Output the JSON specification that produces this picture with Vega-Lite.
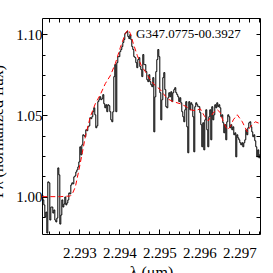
{
  "$schema": "https://vega.github.io/schema/vega-lite/v6.json",
  "width": 218,
  "height": 216,
  "autosize": {"type": "none"},
  "padding": {"left": 42, "top": 18, "right": 13, "bottom": 39},
  "background": "white",
  "config": {
    "view": {"stroke": "#000", "strokeWidth": 1},
    "axis": {"labelFont": "Liberation Serif", "titleFont": "Liberation Serif", "labelColor": "#000", "titleColor": "#000", "domain": false, "grid": false, "titleFontWeight": "normal"}
  },
  "datasets": {
    "spec": [
      {"w": 2.292075, "f": 1.0010}, {"w": 2.2921, "f": 0.9980}, {"w": 2.292125, "f": 0.9949}, {"w": 2.29215, "f": 0.9875},
      {"w": 2.292175, "f": 0.9905}, {"w": 2.2922, "f": 0.9776}, {"w": 2.292225, "f": 1.0091}, {"w": 2.29225, "f": 1.0085},
      {"w": 2.292275, "f": 0.9856}, {"w": 2.2923, "f": 0.9936}, {"w": 2.292325, "f": 0.9936}, {"w": 2.29235, "f": 0.9899},
      {"w": 2.292375, "f": 0.9918}, {"w": 2.2924, "f": 0.9856}, {"w": 2.292425, "f": 0.9844}, {"w": 2.29245, "f": 0.9868},
      {"w": 2.292475, "f": 1.0177}, {"w": 2.2925, "f": 1.0134}, {"w": 2.292525, "f": 0.9831}, {"w": 2.29255, "f": 0.9887},
      {"w": 2.292575, "f": 0.9980}, {"w": 2.2926, "f": 0.9936}, {"w": 2.292625, "f": 0.9955}, {"w": 2.29265, "f": 0.9998},
      {"w": 2.292675, "f": 0.9949}, {"w": 2.2927, "f": 0.9961}, {"w": 2.292725, "f": 0.9980}, {"w": 2.29275, "f": 1.0023},
      {"w": 2.292775, "f": 1.0017}, {"w": 2.2928, "f": 1.0072}, {"w": 2.292825, "f": 1.0085}, {"w": 2.29285, "f": 1.0079},
      {"w": 2.292875, "f": 1.0122}, {"w": 2.2929, "f": 1.0128}, {"w": 2.292925, "f": 1.0152}, {"w": 2.29295, "f": 1.0165},
      {"w": 2.292975, "f": 1.0183}, {"w": 2.293, "f": 1.0214}, {"w": 2.293025, "f": 1.0307}, {"w": 2.29305, "f": 1.0257},
      {"w": 2.293075, "f": 1.0319}, {"w": 2.2931, "f": 1.0381}, {"w": 2.293125, "f": 1.0375}, {"w": 2.29315, "f": 1.0369},
      {"w": 2.293175, "f": 1.0412}, {"w": 2.2932, "f": 1.0406}, {"w": 2.293225, "f": 1.0430}, {"w": 2.29325, "f": 1.0436},
      {"w": 2.293275, "f": 1.0486}, {"w": 2.2933, "f": 1.0480}, {"w": 2.293325, "f": 1.0492}, {"w": 2.29335, "f": 1.0523},
      {"w": 2.293375, "f": 1.0547}, {"w": 2.2934, "f": 1.0504}, {"w": 2.293425, "f": 1.0424}, {"w": 2.29345, "f": 1.0436},
      {"w": 2.293475, "f": 1.0585}, {"w": 2.2935, "f": 1.0597}, {"w": 2.293525, "f": 1.0615}, {"w": 2.29355, "f": 1.0597},
      {"w": 2.293575, "f": 1.0603}, {"w": 2.2936, "f": 1.0628}, {"w": 2.293625, "f": 1.0572}, {"w": 2.29365, "f": 1.0547},
      {"w": 2.293675, "f": 1.0566}, {"w": 2.2937, "f": 1.0523}, {"w": 2.293725, "f": 1.0566}, {"w": 2.29375, "f": 1.0560},
      {"w": 2.293775, "f": 1.0523}, {"w": 2.2938, "f": 1.0473}, {"w": 2.293825, "f": 1.0461}, {"w": 2.29385, "f": 1.0523},
      {"w": 2.293875, "f": 1.0739}, {"w": 2.2939, "f": 1.0813}, {"w": 2.293925, "f": 1.0523}, {"w": 2.29395, "f": 1.0825},
      {"w": 2.293975, "f": 1.0862}, {"w": 2.294, "f": 1.0862}, {"w": 2.294025, "f": 1.0893}, {"w": 2.29405, "f": 1.0906},
      {"w": 2.294075, "f": 1.0924}, {"w": 2.2941, "f": 1.0949}, {"w": 2.294125, "f": 1.0967}, {"w": 2.29415, "f": 1.1004},
      {"w": 2.294175, "f": 1.1011}, {"w": 2.2942, "f": 1.1017}, {"w": 2.294225, "f": 1.0986}, {"w": 2.29425, "f": 1.0973},
      {"w": 2.294275, "f": 1.0998}, {"w": 2.2943, "f": 1.0967}, {"w": 2.294325, "f": 1.0924}, {"w": 2.29435, "f": 1.0906},
      {"w": 2.294375, "f": 1.0862}, {"w": 2.2944, "f": 1.0856}, {"w": 2.294425, "f": 1.0825}, {"w": 2.29445, "f": 1.0794},
      {"w": 2.294475, "f": 1.0844}, {"w": 2.2945, "f": 1.0856}, {"w": 2.294525, "f": 1.0801}, {"w": 2.29455, "f": 1.0782},
      {"w": 2.294575, "f": 1.0739}, {"w": 2.2946, "f": 1.0875}, {"w": 2.294625, "f": 1.0813}, {"w": 2.29465, "f": 1.0813},
      {"w": 2.294675, "f": 1.0770}, {"w": 2.2947, "f": 1.0720}, {"w": 2.294725, "f": 1.0708}, {"w": 2.29475, "f": 1.0751},
      {"w": 2.294775, "f": 1.0708}, {"w": 2.2948, "f": 1.0689}, {"w": 2.294825, "f": 1.0677}, {"w": 2.29485, "f": 1.0733},
      {"w": 2.294875, "f": 1.0399}, {"w": 2.2949, "f": 1.0615}, {"w": 2.294925, "f": 1.0770}, {"w": 2.29495, "f": 1.0844},
      {"w": 2.294975, "f": 1.0906}, {"w": 2.295, "f": 1.0862}, {"w": 2.295025, "f": 1.0640}, {"w": 2.29505, "f": 1.0473},
      {"w": 2.295075, "f": 1.0597}, {"w": 2.2951, "f": 1.0733}, {"w": 2.295125, "f": 1.0764}, {"w": 2.29515, "f": 1.0659},
      {"w": 2.295175, "f": 1.0554}, {"w": 2.2952, "f": 1.0547}, {"w": 2.295225, "f": 1.0609}, {"w": 2.29525, "f": 1.0640},
      {"w": 2.295275, "f": 1.0615}, {"w": 2.2953, "f": 1.0646}, {"w": 2.295325, "f": 1.0585}, {"w": 2.29535, "f": 1.0640},
      {"w": 2.295375, "f": 1.0659}, {"w": 2.2954, "f": 1.0671}, {"w": 2.295425, "f": 1.0640}, {"w": 2.29545, "f": 1.0628},
      {"w": 2.295475, "f": 1.0615}, {"w": 2.2955, "f": 1.0585}, {"w": 2.295525, "f": 1.0609}, {"w": 2.29555, "f": 1.0578},
      {"w": 2.295575, "f": 1.0523}, {"w": 2.2956, "f": 1.0492}, {"w": 2.295625, "f": 1.0461}, {"w": 2.29565, "f": 1.0535},
      {"w": 2.295675, "f": 1.0585}, {"w": 2.2957, "f": 1.0430}, {"w": 2.295725, "f": 1.0270}, {"w": 2.29575, "f": 1.0585},
      {"w": 2.295775, "f": 1.0535}, {"w": 2.2958, "f": 1.0578}, {"w": 2.295825, "f": 1.0566}, {"w": 2.29585, "f": 1.0492},
      {"w": 2.295875, "f": 1.0276}, {"w": 2.2959, "f": 1.0554}, {"w": 2.295925, "f": 1.0578}, {"w": 2.29595, "f": 1.0566},
      {"w": 2.295975, "f": 1.0554}, {"w": 2.296, "f": 1.0554}, {"w": 2.296025, "f": 1.0517}, {"w": 2.29605, "f": 1.0443},
      {"w": 2.296075, "f": 1.0307}, {"w": 2.2961, "f": 1.0455}, {"w": 2.296125, "f": 1.0288}, {"w": 2.29615, "f": 1.0473},
      {"w": 2.296175, "f": 1.0535}, {"w": 2.2962, "f": 1.0412}, {"w": 2.296225, "f": 1.0307}, {"w": 2.29625, "f": 1.0492},
      {"w": 2.296275, "f": 1.0535}, {"w": 2.2963, "f": 1.0350}, {"w": 2.296325, "f": 1.0554}, {"w": 2.29635, "f": 1.0473},
      {"w": 2.296375, "f": 1.0504}, {"w": 2.2964, "f": 1.0566}, {"w": 2.296425, "f": 1.0547}, {"w": 2.29645, "f": 1.0578},
      {"w": 2.296475, "f": 1.0554}, {"w": 2.2965, "f": 1.0566}, {"w": 2.296525, "f": 1.0547}, {"w": 2.29655, "f": 1.0492},
      {"w": 2.296575, "f": 1.0504}, {"w": 2.2966, "f": 1.0455}, {"w": 2.296625, "f": 1.0393}, {"w": 2.29665, "f": 1.0443},
      {"w": 2.296675, "f": 1.0350}, {"w": 2.2967, "f": 1.0461}, {"w": 2.296725, "f": 1.0504}, {"w": 2.29675, "f": 1.0492},
      {"w": 2.296775, "f": 1.0424}, {"w": 2.2968, "f": 1.0443}, {"w": 2.296825, "f": 1.0412}, {"w": 2.29685, "f": 1.0430},
      {"w": 2.296875, "f": 1.0381}, {"w": 2.2969, "f": 1.0393}, {"w": 2.296925, "f": 1.0245}, {"w": 2.29695, "f": 1.0381},
      {"w": 2.296975, "f": 1.0362}, {"w": 2.297, "f": 1.0350}, {"w": 2.297025, "f": 1.0332}, {"w": 2.29705, "f": 1.0319},
      {"w": 2.297075, "f": 1.0332}, {"w": 2.2971, "f": 1.0307}, {"w": 2.297125, "f": 1.0332}, {"w": 2.29715, "f": 1.0350},
      {"w": 2.297175, "f": 1.0412}, {"w": 2.2972, "f": 1.0381}, {"w": 2.297225, "f": 1.0424}, {"w": 2.29725, "f": 1.0455},
      {"w": 2.297275, "f": 1.0461}, {"w": 2.2973, "f": 1.0430}, {"w": 2.297325, "f": 1.0399}, {"w": 2.29735, "f": 1.0369},
      {"w": 2.297375, "f": 1.0381}, {"w": 2.2974, "f": 1.0344}, {"w": 2.297425, "f": 1.0307}, {"w": 2.29745, "f": 1.0245},
      {"w": 2.297475, "f": 1.0288}, {"w": 2.2975, "f": 1.0239}, {"w": 2.297525, "f": 1.0260}
    ],
    "model": [
      {"w": 2.292075, "m": 1.0000}, {"w": 2.292525, "m": 1.0000}, {"w": 2.292775, "m": 1.0004}, {"w": 2.292825, "m": 1.0017},
      {"w": 2.2929, "m": 1.0059}, {"w": 2.292975, "m": 1.0146}, {"w": 2.293025, "m": 1.0208}, {"w": 2.293075, "m": 1.0270},
      {"w": 2.29315, "m": 1.0369}, {"w": 2.293225, "m": 1.0443}, {"w": 2.293275, "m": 1.0492}, {"w": 2.2934, "m": 1.0572},
      {"w": 2.293525, "m": 1.0628}, {"w": 2.29365, "m": 1.0696}, {"w": 2.293775, "m": 1.0745}, {"w": 2.2939, "m": 1.0819},
      {"w": 2.294025, "m": 1.0918}, {"w": 2.29415, "m": 1.1004}, {"w": 2.294225, "m": 1.1029}, {"w": 2.294275, "m": 1.1004},
      {"w": 2.29435, "m": 1.0943}, {"w": 2.29445, "m": 1.0869}, {"w": 2.29455, "m": 1.0807}, {"w": 2.29465, "m": 1.0770},
      {"w": 2.294775, "m": 1.0720}, {"w": 2.2949, "m": 1.0683}, {"w": 2.295025, "m": 1.0659}, {"w": 2.2952, "m": 1.0603},
      {"w": 2.29535, "m": 1.0585}, {"w": 2.295525, "m": 1.0572}, {"w": 2.295675, "m": 1.0554}, {"w": 2.295775, "m": 1.0535},
      {"w": 2.2959, "m": 1.0529}, {"w": 2.296025, "m": 1.0541}, {"w": 2.296125, "m": 1.0498}, {"w": 2.296225, "m": 1.0467},
      {"w": 2.29635, "m": 1.0517}, {"w": 2.29645, "m": 1.0535}, {"w": 2.296525, "m": 1.0517}, {"w": 2.2966, "m": 1.0461},
      {"w": 2.2967, "m": 1.0412}, {"w": 2.296775, "m": 1.0430}, {"w": 2.29685, "m": 1.0473}, {"w": 2.29695, "m": 1.0504},
      {"w": 2.297075, "m": 1.0461}, {"w": 2.2972, "m": 1.0399}, {"w": 2.297275, "m": 1.0430}, {"w": 2.2974, "m": 1.0461},
      {"w": 2.297525, "m": 1.0449}
    ]
  },
  "layer": [
    {
      "data": {"name": "spec"},
      "mark": {"type": "line", "interpolate": "step", "color": "#000", "strokeWidth": 1, "clip": true},
      "encoding": {
        "x": {
          "field": "w", "type": "quantitative",
          "scale": {"domain": [2.292067, 2.297518], "nice": false, "zero": false},
          "axis": {
            "orient": "bottom",
            "values": [2.293, 2.294, 2.295, 2.296, 2.297],
            "format": ".3f",
            "tickColor": "#000", "tickWidth": 1, "tickSize": -5,
            "labelPadding": 16,
            "labelFontSize": 15,
            "labelFlush": false,
            "labelOverlap": false,
            "title": "λ (μm)",
            "titleFontSize": 16,
            "titleX": 109,
            "titleY": 43,
            "titleAlign": "center",
            "titleBaseline": "alphabetic"
          }
        },
        "y": {
          "field": "f", "type": "quantitative",
          "scale": {"domain": [0.977, 1.11], "nice": false, "zero": false},
          "axis": {
            "orient": "left",
            "values": [1.0, 1.05, 1.1],
            "format": ".2f",
            "tickColor": "#000", "tickWidth": 1, "tickSize": -5,
            "labelPadding": 5,
            "labelFontSize": 15,
            "labelFlush": false,
            "labelOverlap": false,
            "title": "Fλ (normalized flux)",
            "titleFontSize": 16,
            "titleAngle": -90,
            "titleX": -40,
            "titleY": 113,
            "titleAlign": "center",
            "titleBaseline": "alphabetic"
          }
        }
      }
    },
    {
      "data": {"name": "model"},
      "mark": {"type": "line", "color": "#ff0000", "strokeDash": [5, 3], "strokeWidth": 1, "clip": true},
      "encoding": {
        "x": {
          "field": "w", "type": "quantitative",
          "axis": {
            "orient": "top",
            "values": [2.29225, 2.2925, 2.29275, 2.293, 2.29325, 2.2935, 2.29375, 2.294, 2.29425, 2.2945, 2.29475, 2.295, 2.29525, 2.2955, 2.29575, 2.296, 2.29625, 2.2965, 2.29675, 2.297, 2.29725, 2.2975],
            "labels": false, "tickColor": "#000", "tickWidth": 1, "tickSize": -4,
            "title": null
          }
        },
        "y": {
          "field": "m", "type": "quantitative",
          "axis": {
            "orient": "right",
            "values": [0.9875, 1.0, 1.0125, 1.025, 1.0375, 1.05, 1.0625, 1.075, 1.0875, 1.1],
            "labels": false, "tickColor": "#000", "tickWidth": 1, "tickSize": -4,
            "title": null
          }
        }
      }
    },
    {
      "data": {"values": [{"label": "G347.0775-00.3927"}]},
      "mark": {"type": "text", "font": "Liberation Serif", "fontSize": 13, "align": "left", "baseline": "middle", "color": "#000"},
      "encoding": {
        "x": {
          "datum": 2.29442, "type": "quantitative",
          "axis": {
            "orient": "bottom",
            "values": [2.29225, 2.2925, 2.29275, 2.29325, 2.2935, 2.29375, 2.29425, 2.2945, 2.29475, 2.29525, 2.2955, 2.29575, 2.29625, 2.2965, 2.29675, 2.29725, 2.2975],
            "labels": false, "tickColor": "#000", "tickWidth": 1, "tickSize": -3,
            "title": null
          }
        },
        "y": {
          "datum": 1.1004, "type": "quantitative",
          "axis": {
            "orient": "left",
            "values": [0.9875, 1.0125, 1.025, 1.0375, 1.0625, 1.075, 1.0875],
            "labels": false, "tickColor": "#000", "tickWidth": 1, "tickSize": -3,
            "title": null
          }
        },
        "text": {"field": "label"}
      }
    }
  ],
  "resolve": {"axis": {"x": "independent", "y": "independent"}}
}
